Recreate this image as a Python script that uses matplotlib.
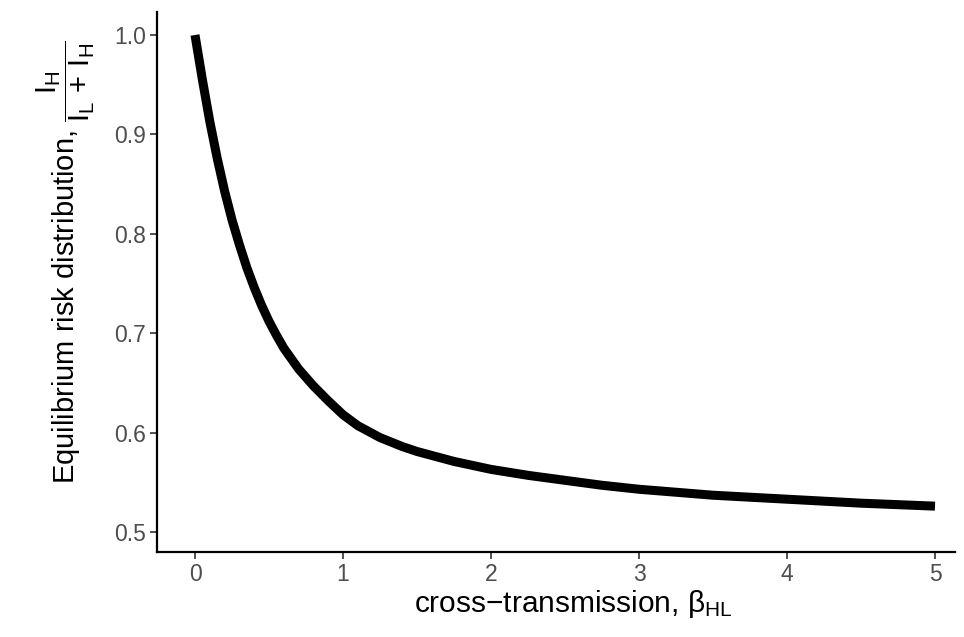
import matplotlib
matplotlib.use("Agg")
import matplotlib.pyplot as plt

# cross-transmission rate and the equilibrium share of high-risk infections
beta_hl = [0.0, 0.05, 0.1, 0.15, 0.2, 0.25, 0.3, 0.35, 0.4, 0.45, 0.5, 0.55,
           0.6, 0.7, 0.8, 0.9, 1.0, 1.1, 1.25, 1.4, 1.5, 1.75, 2.0, 2.25,
           2.5, 2.75, 3.0, 3.5, 4.0, 4.5, 5.0]
risk_share = [1.000, 0.955, 0.913, 0.876, 0.843, 0.814, 0.789, 0.766, 0.746,
              0.728, 0.712, 0.698, 0.685, 0.664, 0.647, 0.632, 0.618, 0.607,
              0.595, 0.586, 0.581, 0.571, 0.563, 0.557, 0.552, 0.547, 0.543,
              0.537, 0.533, 0.529, 0.526]

x_ticks = [0, 1, 2, 3, 4, 5]
y_ticks = [0.5, 0.6, 0.7, 0.8, 0.9, 1.0]

plt.rcParams["font.family"] = ["Liberation Sans", "DejaVu Sans"]
plt.rcParams["mathtext.fontset"] = "custom"
plt.rcParams["mathtext.rm"] = "Liberation Sans"
plt.rcParams["mathtext.it"] = "Liberation Sans:italic"

W, H = 964, 637
fig = plt.figure(figsize=(W / 100, H / 100), dpi=100)

# panel placed in pixel units
left, right, top, bottom = 157, 955, 12, 552
ax = fig.add_axes([left / W, 1 - bottom / H, (right - left) / W, (bottom - top) / H])

ax.plot(beta_hl, risk_share, color="black", linewidth=6.5,
        solid_capstyle="butt", solid_joinstyle="round")

# data -> pixel: x=0 at 195px, 148px per unit; y=1.0 at 35px, 994px per unit
ax.set_xlim((left - 195) / 148, (right - 195) / 148)
ax.set_ylim(1.0 - (bottom - 35) / 994, 1.0 + (35 - top) / 994)

ax.set_xticks(x_ticks)
ax.set_xticklabels([str(t) for t in x_ticks])
ax.set_yticks(y_ticks)
ax.set_yticklabels([f"{t:.1f}" for t in y_ticks])

for side in ["top", "right"]:
    ax.spines[side].set_visible(False)
for side in ["left", "bottom"]:
    ax.spines[side].set_linewidth(1.6)
    ax.spines[side].set_color("black")

ax.tick_params(axis="both", length=5, width=1.2, color="#333333",
               labelcolor="#4D4D4D", labelsize=16.5, pad=3)

ax.set_xlabel("cross\u2212transmission, $\\mathrm{\\beta_{HL}}$", fontsize=21.5,
              color="black")
ax.xaxis.set_label_coords((573 - left) / (right - left), (bottom - 604) / (bottom - top),
                          transform=ax.transAxes)
ax.xaxis.label.set_va("center")

ax.set_ylabel("Equilibrium risk distribution, $\\mathrm{\\dfrac{I_H}{I_L\\,+\\,I_H}}$",
              fontsize=21, color="black")
ax.yaxis.set_label_coords((66 - left) / (right - left), (bottom - 262) / (bottom - top),
                          transform=ax.transAxes)
ax.yaxis.label.set_va("center")

fig.savefig("out.png", dpi=100)
